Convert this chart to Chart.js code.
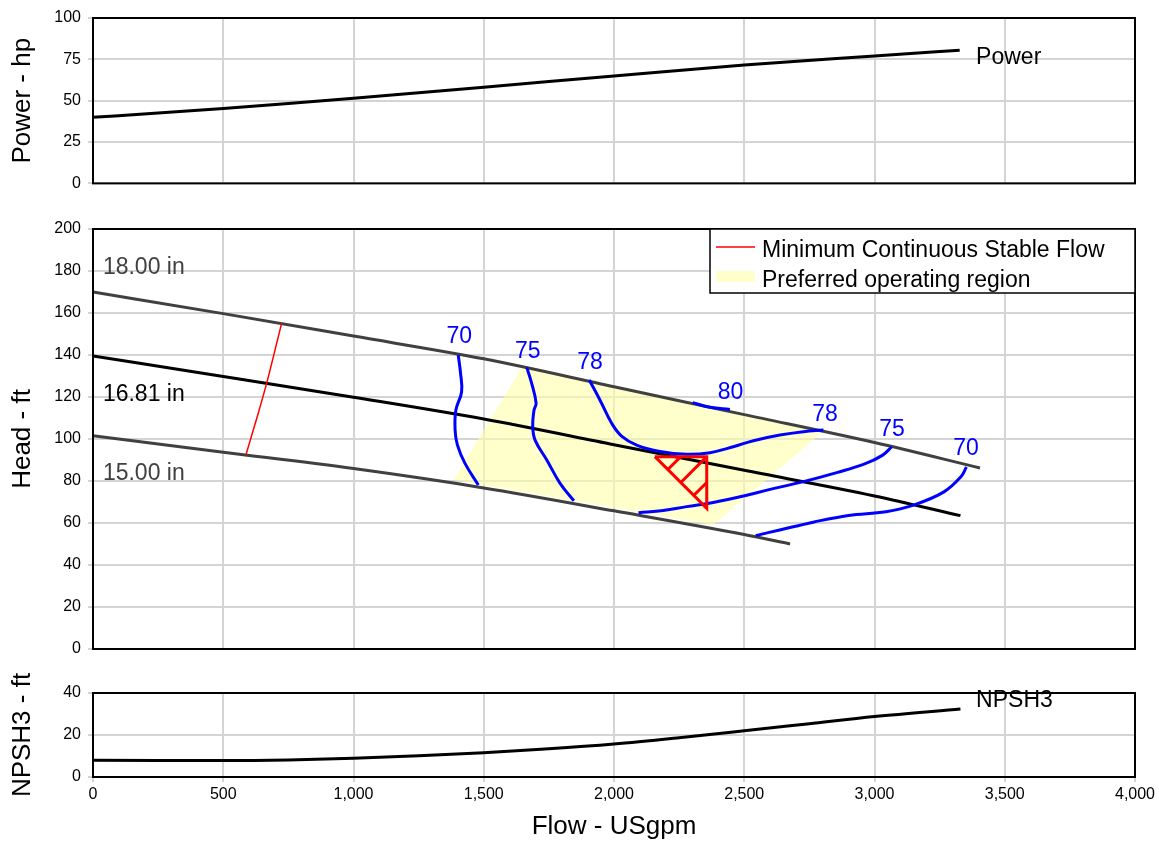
<!DOCTYPE html>
<html><head><meta charset="utf-8">
<script src="https://cdn.jsdelivr.net/npm/chart.js@4.4.1/dist/chart.umd.min.js"></script>
<style>
html,body{margin:0;padding:0;background:#fff;}
#wrap{position:relative;width:1159px;height:846px;overflow:hidden;background:#fff;}
canvas{position:absolute;left:0;}
</style></head><body>
<div id="wrap">
<canvas id="c1" width="1159" height="200" style="top:0px"></canvas>
<canvas id="c2" width="1159" height="470" style="top:200px"></canvas>
<canvas id="c3" width="1159" height="176" style="top:670px"></canvas>
</div>
<script>
// ---------- data ----------
const xTickStep = 500;
const powerFlow = [0, 250, 500, 750, 1000, 1500, 2000, 2500, 3000, 3327];
const powerHp   = [40, 42.5, 45.3, 48.3, 51.5, 58.1, 65.0, 71.6, 77.0, 80.5];

const npshFlow = [0, 250, 500, 750, 1000, 1250, 1500, 1750, 2000, 2250, 2500, 2750, 3000, 3330];
const npshFt   = [8.0, 7.9, 7.8, 8.1, 8.9, 10.1, 11.6, 13.4, 15.7, 18.7, 22.0, 25.4, 28.8, 32.4];

const dia18Flow = [0, 500, 1000, 1500, 2000, 2500, 3000, 3405];
const dia18Head = [170, 159.7, 149, 138.2, 124.9, 111.6, 98.3, 86.2];
const dia1681Flow = [0, 500, 1000, 1500, 2000, 2500, 3000, 3330];
const dia1681Head = [139.5, 129.8, 119.9, 109.5, 97.3, 85.1, 72.9, 63.5];
const dia15Flow = [0, 500, 1000, 1500, 2000, 2500, 2676];
const dia15Head = [101.5, 93.7, 85.9, 76.7, 65.8, 54.5, 50.0];

const eff70LFlow = [1402, 1411, 1415, 1393, 1390, 1399, 1428, 1479];
const eff70LHead = [140.0, 131.3, 122.5, 113.8, 104.3, 97.1, 88.4, 78.1];
const eff75LFlow = [1665, 1684, 1701, 1693, 1688, 1697, 1742, 1793, 1846];
const eff75LHead = [134.1, 126.5, 117.0, 113.8, 105.9, 99.5, 90.0, 78.9, 70.6];
const eff78Flow = [1905, 1946, 1991, 2029, 2087, 2177, 2279, 2369, 2458, 2535, 2637, 2727, 2804];
const eff78Head = [128.1, 118.6, 107.5, 101.4, 97.1, 94.0, 92.7, 93.5, 96.3, 99.2, 101.9, 103.5, 104.3];
const eff80Flow = [2302, 2369, 2445];
const eff80Head = [117.3, 115.1, 114.1];
const eff75RFlow = [2094, 2189, 2279, 2381, 2484, 2599, 2727, 2855, 2960, 3030, 3066];
const eff75RHead = [64.9, 65.9, 67.8, 69.8, 72.5, 76.0, 79.7, 84.0, 88.0, 92.2, 96.3];
const eff70RFlow = [2544, 2640, 2765, 2900, 3044, 3147, 3265, 3331, 3353];
const eff70RHead = [54.0, 56.8, 60.4, 63.6, 65.4, 68.4, 74.7, 81.9, 86.7];

const mcsfFlow = [587, 611, 636, 666.5, 686, 706, 724];
const mcsfHead = [92.4, 102.5, 113, 126.5, 136, 146, 155.1];

const porFlow = [1383, 1646, 2810, 2381, 1383];
const porHead = [80.5, 134.1, 104.3, 59.0, 80.5];

const bepTriFlow = [2157, 2356, 2356, 2157];
const bepTriHead = [91.6, 91.6, 67.0, 91.6];
const bepHatchFlowA = [2206.75, 2256.5];
const bepHatchHeadA = [85.45, 91.6];
const bepHatchFlowB = [2256.5, 2356];
const bepHatchHeadB = [79.3, 91.6];
const bepHatchFlowC = [2306.25, 2356];
const bepHatchHeadC = [73.15, 79.3];

const effLabelText = ['70', '75', '78', '80', '78', '75', '70'];
const effLabelFlow = [1406, 1669, 1908, 2447, 2810, 3067, 3351];
const effLabelHead = [148.6, 141.8, 136.2, 121.9, 111.6, 104.3, 95.2];

const diaLabelText = ['18.00 in', '16.81 in', '15.00 in'];
const diaLabelFlow = [38, 38, 38];
const diaLabelHead = [181.4, 121.3, 83.7];

const powerLabel = {text: 'Power', flow: 3390, value: 76.2};
const npshLabel = {text: 'NPSH3', flow: 3390, value: 36.4};
const legendLabels = ['Minimum Continuous Stable Flow', 'Preferred operating region'];

// ---------- styling helpers ----------
const FONT = "'Liberation Sans', Arial, Helvetica, sans-serif";
Chart.defaults.font.family = FONT;
Chart.defaults.color = '#000';
Chart.defaults.animation = false;
const GRID = '#d4d4d4';

function pts(xs, ys) { return xs.map((x, i) => ({x: x, y: ys[i]})); }
function series(xs, ys, color, width, extra) {
  return Object.assign({data: pts(xs, ys), showLine: true, borderColor: color, borderWidth: width,
    pointRadius: 0, pointHoverRadius: 0, fill: false, tension: 0}, extra || {});
}
function xScale(showTicks) {
  return {
    type: 'linear', min: 0, max: 4000,
    ticks: {display: showTicks, stepSize: xTickStep, padding: 3, font: {size: 16}, color: '#000', maxRotation: 0,
      callback: v => Number(v).toLocaleString('en-US')},
    grid: {color: GRID, lineWidth: 2, drawTicks: showTicks, tickLength: 5},
    border: {display: false},
    title: showTicks ? {display: true, text: 'Flow - USgpm', font: {size: 26}, color: '#000', padding: {top: 0, bottom: 4}} : {display: false},
    afterFit: s => { s.height = showTicks ? 69 : 0; }
  };
}
function yScale(min, max, step, title) {
  return {
    type: 'linear', min: min, max: max,
    ticks: {stepSize: step, padding: 7, font: {size: 16}, color: '#000'},
    grid: {color: GRID, lineWidth: 2, tickLength: 5},
    border: {display: false},
    title: {display: true, text: title, font: {size: 26}, color: '#000', padding: {top: 7, bottom: 0}},
    afterFit: s => { s.width = 93; }
  };
}

const framePlugin = {
  id: 'frame',
  afterDraw(chart) {
    const {ctx, chartArea: a} = chart;
    ctx.save();
    ctx.strokeStyle = '#000'; ctx.lineWidth = 2;
    ctx.strokeRect(a.left, a.top, a.right - a.left, a.bottom - a.top);
    ctx.restore();
  }
};
const textPlugin = {
  id: 'texts',
  afterDatasetsDraw(chart, args, opts) {
    const {ctx} = chart; const x = chart.scales.x, y = chart.scales.y;
    (opts.items || []).forEach(it => {
      ctx.save();
      ctx.font = (it.size || 23) + 'px ' + FONT;
      ctx.fillStyle = it.color || '#000';
      ctx.textAlign = it.align || 'center';
      ctx.textBaseline = 'middle';
      ctx.fillText(it.text, x.getPixelForValue(it.x), y.getPixelForValue(it.y));
      ctx.restore();
    });
  }
};
const legendPlugin = {
  id: 'porLegend',
  afterDraw(chart, args, opts) {
    if (!opts.labels) return;
    const {ctx, chartArea: a} = chart;
    const w = 425, h = 64, L = a.right - w, T = a.top;
    ctx.save();
    ctx.fillStyle = '#fff'; ctx.fillRect(L, T, w, h);
    ctx.strokeStyle = '#000'; ctx.lineWidth = 1.5; ctx.strokeRect(L, T, w, h);
    ctx.strokeStyle = '#ff0000'; ctx.lineWidth = 1.5;
    ctx.beginPath(); ctx.moveTo(L + 6, T + 18); ctx.lineTo(L + 45, T + 18); ctx.stroke();
    ctx.fillStyle = '#ffffcc'; ctx.fillRect(L + 6, T + 42, 39, 11);
    ctx.fillStyle = '#000'; ctx.font = '23px ' + FONT; ctx.textAlign = 'left'; ctx.textBaseline = 'alphabetic';
    ctx.fillText(opts.labels[0], L + 52, T + 28);
    ctx.fillText(opts.labels[1], L + 52, T + 58);
    ctx.restore();
  }
};

function baseOptions(pad, showX, yMin, yMax, yStep, yTitle, items, legendLabelsOpt) {
  return {
    responsive: false, devicePixelRatio: 1, animation: false, events: [],
    layout: {padding: {top: pad.top, bottom: pad.bottom, left: 0, right: 24}},
    scales: {x: xScale(showX), y: yScale(yMin, yMax, yStep, yTitle)},
    plugins: {legend: {display: false}, tooltip: {enabled: false},
      texts: {items: items}, porLegend: {labels: legendLabelsOpt}}
  };
}

// ---------- Power ----------
new Chart(document.getElementById('c1'), {
  type: 'scatter',
  data: {datasets: [series(powerFlow, powerHp, '#000', 3, {cubicInterpolationMode: 'monotone'})]},
  options: baseOptions({top: 18, bottom: 15}, false, 0, 100, 25, 'Power - hp',
    [{text: powerLabel.text, x: powerLabel.flow, y: powerLabel.value, align: 'left'}], null),
  plugins: [textPlugin, framePlugin, legendPlugin]
});

// ---------- Head ----------
const BLUE = '#0000ff', RED = '#ff0000';
const headItems = [];
effLabelText.forEach((t, i) => headItems.push({text: t, x: effLabelFlow[i], y: effLabelHead[i], color: BLUE}));
const diaColors = ['#404040', '#000', '#404040'];
diaLabelText.forEach((t, i) => headItems.push({text: t, x: diaLabelFlow[i], y: diaLabelHead[i], color: diaColors[i], align: 'left'}));

new Chart(document.getElementById('c2'), {
  type: 'scatter',
  data: {datasets: [
    series(bepTriFlow, bepTriHead, RED, 3),
    series(bepHatchFlowA, bepHatchHeadA, RED, 3),
    series(bepHatchFlowB, bepHatchHeadB, RED, 3),
    series(bepHatchFlowC, bepHatchHeadC, RED, 3),
    series(eff70LFlow, eff70LHead, BLUE, 3, {tension: 0.4}),
    series(eff75LFlow, eff75LHead, BLUE, 3, {tension: 0.4}),
    series(eff78Flow, eff78Head, BLUE, 3, {tension: 0.4}),
    series(eff80Flow, eff80Head, BLUE, 3, {tension: 0.4}),
    series(eff75RFlow, eff75RHead, BLUE, 3, {tension: 0.4}),
    series(eff70RFlow, eff70RHead, BLUE, 3, {tension: 0.4}),
    series(mcsfFlow, mcsfHead, RED, 1.5, {tension: 0.4}),
    series(dia18Flow, dia18Head, '#404040', 3, {cubicInterpolationMode: 'monotone'}),
    series(dia1681Flow, dia1681Head, '#000', 3, {cubicInterpolationMode: 'monotone'}),
    series(dia15Flow, dia15Head, '#404040', 3, {cubicInterpolationMode: 'monotone'}),
    series(porFlow, porHead, 'rgba(0,0,0,0)', 0, {fill: 'shape', backgroundColor: 'rgba(255,255,170,0.6)'})
  ]},
  options: baseOptions({top: 29, bottom: 21}, false, 0, 200, 20, 'Head - ft', headItems, legendLabels),
  plugins: [textPlugin, framePlugin, legendPlugin]
});

// ---------- NPSH ----------
new Chart(document.getElementById('c3'), {
  type: 'scatter',
  data: {datasets: [series(npshFlow, npshFt, '#000', 3, {cubicInterpolationMode: 'monotone'})]},
  options: baseOptions({top: 23, bottom: 0}, true, 0, 40, 20, 'NPSH3 - ft',
    [{text: npshLabel.text, x: npshLabel.flow, y: npshLabel.value, align: 'left'}], null),
  plugins: [textPlugin, framePlugin, legendPlugin]
});
</script>
</body></html>
